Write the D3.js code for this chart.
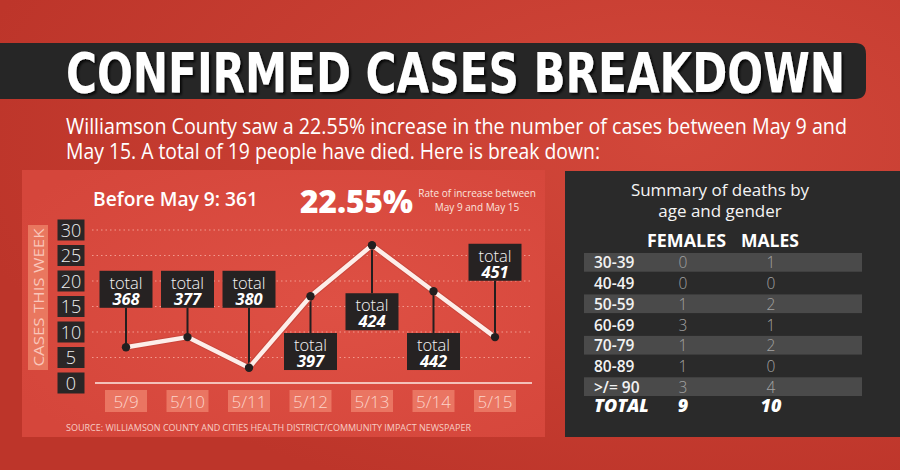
<!DOCTYPE html>
<html lang="en">
<head>
    <meta charset="UTF-8">
    <title>Confirmed Cases Breakdown</title>
    <script src="https://d3js.org/d3.v7.min.js"></script>
    <style>
        body { margin: 0; background: #c43a2e; }
        svg { display: block; }
    </style>
</head>
<body>
<script>
    // chart values
    const dates  = ["5/9", "5/10", "5/11", "5/12", "5/13", "5/14", "5/15"];
    const cases  = [7, 9, 3, 17, 27, 18, 9];
    const totals = [368, 377, 380, 397, 424, 442, 451];
    const yTicks = [0, 5, 10, 15, 20, 25, 30];

    // deaths table
    const ageGroups = ["30-39", "40-49", "50-59", "60-69", "70-79", "80-89", ">/= 90"];
    const females   = [0, 0, 1, 3, 1, 1, 3];
    const males     = [1, 0, 2, 1, 2, 0, 4];

    const width  = 900;
    const height = 470;
    const font   = "'Open Sans', sans-serif";

    // where each "total" callout sits, in cases units (top edge of the box)
    const calloutLevel = [22, 22, 22, 9.8, 17.6, 9.8, 27.3];

    const svg = d3.select("body")
            .append("svg")
            .attr("width", width)
            .attr("height", height);

    const defs = svg.append("defs");
    const bg = defs.append("radialGradient").attr("id", "bg")
            .attr("cx", "0.75").attr("cy", "0.3").attr("r", "0.8");
    bg.append("stop").attr("offset", "0").attr("stop-color", "#d2473a");
    bg.append("stop").attr("offset", "1").attr("stop-color", "#bd352a");

    const pg = defs.append("radialGradient").attr("id", "panel")
            .attr("cx", "0.6").attr("cy", "0.5").attr("r", "0.7");
    pg.append("stop").attr("offset", "0").attr("stop-color", "#de5044");
    pg.append("stop").attr("offset", "1").attr("stop-color", "#d5463b");

    defs.append("filter").attr("id", "shadow")
            .attr("x", "-5%").attr("y", "-20%").attr("width", "110%").attr("height", "140%")
            .append("feDropShadow")
            .attr("dx", 2).attr("dy", 2).attr("stdDeviation", 1)
            .attr("flood-color", "#000").attr("flood-opacity", 0.8);

    svg.append("rect").attr("width", width).attr("height", height).attr("fill", "url(#bg)");

    // title bar
    svg.append("path")
            .attr("d", "M0,43 H855 Q866,43 866,54 V88 Q866,99 855,99 H0 Z")
            .attr("fill", "#262626");

    svg.append("text")
            .attr("transform", "translate(66,92) scale(1,1.12)")
            .attr("textLength", 779).attr("lengthAdjust", "spacingAndGlyphs")
            .attr("filter", "url(#shadow)")
            .style("font-family", "'DejaVu Sans Condensed', 'DejaVu Sans', sans-serif")
            .style("font-weight", "bold").style("font-size", "50px")
            .attr("fill", "#fff").text("CONFIRMED CASES BREAKDOWN");

    // intro paragraph, one text with a tspan per line
    const intro = [
        {t: "Williamson County saw a 22.55% increase in the number of cases between May 9 and", w: 781},
        {t: "May 15. A total of 19 people have died. Here is break down:", w: 534}
    ];
    svg.append("text")
            .attr("y", 134)
            .style("font-family", font).style("font-size", "21px")
            .attr("fill", "#fff")
            .selectAll("tspan").data(intro).join("tspan")
            .attr("x", 66).attr("dy", (d, i) => i ? 25 : 0)
            .attr("textLength", d => d.w).attr("lengthAdjust", "spacingAndGlyphs")
            .text(d => d.t);

    // chart panel
    svg.append("rect")
            .attr("x", 22).attr("y", 170).attr("width", 523).attr("height", 267)
            .attr("fill", "url(#panel)");

    const x = d3.scalePoint().domain(dates).range([126, 495]);
    const y = d3.scaleLinear().domain([0, 30]).range([383, 230]);

    svg.append("text")
            .attr("x", 93).attr("y", 206)
            .attr("textLength", 165).attr("lengthAdjust", "spacingAndGlyphs")
            .style("font-family", font).style("font-weight", 600).style("font-size", "20px")
            .attr("fill", "#fff").text("Before May 9: 361");

    svg.append("text")
            .attr("x", 300).attr("y", 213)
            .attr("textLength", 113).attr("lengthAdjust", "spacingAndGlyphs")
            .style("font-family", font).style("font-weight", 800).style("font-size", "31px")
            .attr("fill", "#fff").text("22.55%");

    svg.append("text")
            .attr("y", 197)
            .attr("text-anchor", "middle")
            .style("font-family", font).style("font-size", "10px")
            .attr("fill", "#fbe3de")
            .selectAll("tspan").data(["Rate of increase between", "May 9 and May 15"]).join("tspan")
            .attr("x", 477).attr("dy", (d, i) => i ? 14 : 0)
            .text(d => d);

    // y axis title
    svg.append("rect")
            .attr("x", 28).attr("y", 225).attr("width", 20).attr("height", 145)
            .attr("fill", "#e9775f");
    svg.append("text")
            .attr("transform", "translate(44,297.5) rotate(-90)")
            .attr("text-anchor", "middle")
            .attr("textLength", 138).attr("lengthAdjust", "spacingAndGlyphs")
            .style("font-family", font).style("font-size", "15px")
            .attr("fill", "#f9c6ba").text("CASES THIS WEEK");

    // grid
    svg.selectAll(".grid").data(yTicks.filter(d => d > 0)).join("line")
            .attr("class", "grid")
            .attr("x1", 92).attr("x2", 533)
            .attr("y1", d => y(d)).attr("y2", d => y(d))
            .attr("stroke", "#f39a8e").attr("stroke-width", 1.2)
            .attr("stroke-dasharray", "1.5,3");

    svg.append("line")
            .attr("x1", 95).attr("x2", 532)
            .attr("y1", y(0)).attr("y2", y(0))
            .attr("stroke", "#fde8e3").attr("stroke-width", 1.5);

    // y tick boxes
    const yt = svg.selectAll(".ytick").data(yTicks).join("g")
            .attr("class", "ytick")
            .attr("transform", d => "translate(71," + y(d) + ")");
    yt.append("rect")
            .attr("x", -13.5).attr("y", -10.5).attr("width", 27).attr("height", 21)
            .attr("fill", "#2a2626");
    yt.append("text")
            .attr("y", 6.5).attr("text-anchor", "middle")
            .style("font-family", font).style("font-weight", 300).style("font-size", "18px")
            .attr("fill", "#eeeeee").text(d => d);

    // x labels
    const xt = svg.selectAll(".xtick").data(dates).join("g")
            .attr("class", "xtick")
            .attr("transform", d => "translate(" + x(d) + ",401)");
    xt.append("rect")
            .attr("x", -21).attr("y", -11).attr("width", 42).attr("height", 22)
            .attr("fill", "#ea7562");
    xt.append("text")
            .attr("y", 6.5).attr("text-anchor", "middle")
            .style("font-family", font).style("font-weight", 300).style("font-size", "17px")
            .attr("fill", "#fcd3c9").text(d => d);

    // stems from points to callouts
    const boxH = 37;
    svg.selectAll(".stem").data(dates).join("line")
            .attr("class", "stem")
            .attr("x1", d => x(d)).attr("x2", d => x(d))
            .attr("y1", (d, i) => y(cases[i]))
            .attr("y2", (d, i) => {
                const top = y(calloutLevel[i]);
                return top < y(cases[i]) ? top + boxH : top;
            })
            .attr("stroke", "#231f1f").attr("stroke-width", 2);

    // line
    const line = d3.line()
            .x((d, i) => x(dates[i]))
            .y(d => y(d));

    svg.append("path")
            .datum(cases)
            .attr("d", line)
            .attr("fill", "none")
            .attr("stroke", "#c9463b").attr("stroke-width", 6.5)
            .attr("stroke-linejoin", "round");
    svg.append("path")
            .datum(cases)
            .attr("d", line)
            .attr("fill", "none")
            .attr("stroke", "#fdeeea").attr("stroke-width", 4.5)
            .attr("stroke-linejoin", "round");

    svg.selectAll(".dot").data(cases).join("circle")
            .attr("class", "dot")
            .attr("cx", (d, i) => x(dates[i])).attr("cy", d => y(d))
            .attr("r", 4.2).attr("fill", "#231f1f");

    // callouts
    const co = svg.selectAll(".callout").data(totals).join("g")
            .attr("class", "callout")
            .attr("transform", (d, i) => "translate(" + x(dates[i]) + "," + y(calloutLevel[i]) + ")");
    co.append("rect")
            .attr("x", -26.5).attr("y", 0).attr("width", 53).attr("height", boxH)
            .attr("fill", "#262222");
    const ct = co.append("text")
            .attr("y", 18).attr("text-anchor", "middle")
            .style("font-family", font).style("font-size", "16.5px");
    ct.append("tspan")
            .attr("x", 0)
            .style("font-weight", 300)
            .attr("fill", "#f4f4f4").text("total");
    ct.append("tspan")
            .attr("x", 0).attr("dy", 16)
            .style("font-weight", 700).style("font-style", "italic")
            .attr("fill", "#fff").text(d => d);

    svg.append("text")
            .attr("x", 66).attr("y", 431)
            .attr("textLength", 405).attr("lengthAdjust", "spacingAndGlyphs")
            .style("font-family", font).style("font-size", "8.5px")
            .attr("fill", "#f7cdc4")
            .text("SOURCE: WILLIAMSON COUNTY AND CITIES HEALTH DISTRICT/COMMUNITY IMPACT NEWSPAPER");

    // deaths table
    svg.append("rect")
            .attr("x", 565).attr("y", 171).attr("width", 335).attr("height", 266)
            .attr("fill", "#2a2a2a");

    svg.append("text")
            .attr("y", 196)
            .attr("text-anchor", "middle")
            .style("font-family", font).style("font-size", "17px")
            .attr("fill", "#f5f5f5")
            .selectAll("tspan").data(["Summary of deaths by", "age and gender"]).join("tspan")
            .attr("x", 720).attr("dy", (d, i) => i ? 21 : 0)
            .text(d => d);

    const colF = 683;
    const colM = 771;
    svg.selectAll(".thead").data([{t: "FEMALES", x: 686.5, w: 79}, {t: "MALES", x: 770, w: 58}]).join("text")
            .attr("class", "thead")
            .attr("x", d => d.x).attr("y", 247)
            .attr("text-anchor", "middle")
            .attr("textLength", d => d.w).attr("lengthAdjust", "spacingAndGlyphs")
            .style("font-family", font).style("font-weight", 700).style("font-size", "17px")
            .attr("fill", "#fff").text(d => d.t);

    const row = d3.scaleBand().domain(ageGroups).range([252, 397]);

    svg.selectAll(".stripe").data(ageGroups.filter((d, i) => i % 2 == 0)).join("rect")
            .attr("class", "stripe")
            .attr("x", 584).attr("width", 278)
            .attr("y", d => row(d) + 1).attr("height", row.bandwidth() - 2)
            .attr("fill", "#4a4a4a");

    const r = svg.selectAll(".trow").data(ageGroups).join("g")
            .attr("class", "trow")
            .attr("transform", d => "translate(0," + (row(d) + row.bandwidth() / 2) + ")");
    r.append("text")
            .attr("x", 594).attr("y", 6)
            .style("font-family", font).style("font-weight", 600).style("font-size", "15.5px")
            .attr("fill", "#f2f2f2").text(d => d);
    r.append("text")
            .attr("x", colF).attr("y", 6).attr("text-anchor", "middle")
            .style("font-family", font).style("font-weight", 300).style("font-size", "15.5px")
            .attr("fill", "#a3a3a3").text((d, i) => females[i]);
    r.append("text")
            .attr("x", colM).attr("y", 6).attr("text-anchor", "middle")
            .style("font-family", font).style("font-weight", 300).style("font-size", "15.5px")
            .attr("fill", "#a3a3a3").text((d, i) => males[i]);

    const totalRow = [
        {t: "TOTAL", x: 594, a: "start"},
        {t: d3.sum(females), x: colF, a: "middle"},
        {t: d3.sum(males), x: colM, a: "middle"}
    ];
    svg.selectAll(".ttotal").data(totalRow).join("text")
            .attr("class", "ttotal")
            .attr("x", d => d.x).attr("y", 412)
            .attr("text-anchor", d => d.a)
            .style("font-family", font).style("font-weight", 800).style("font-style", "italic")
            .style("font-size", "18px")
            .attr("fill", "#fff").text(d => d.t);
</script>
</body>
</html>
